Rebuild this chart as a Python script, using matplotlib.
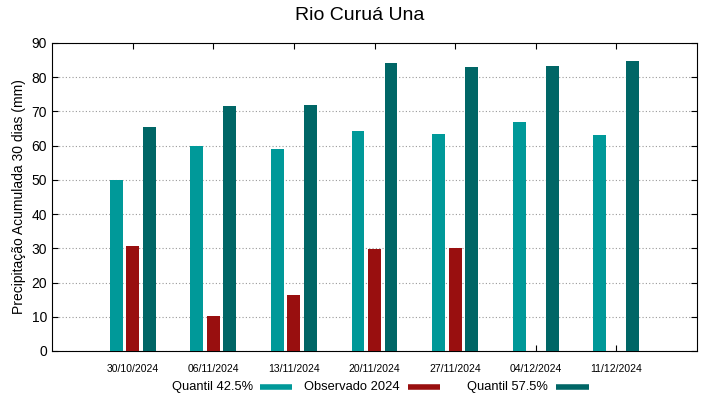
import numpy as np
import matplotlib.pyplot as plt
import matplotlib.transforms as mtransforms

plt.rcParams['font.family'] = ['Liberation Sans', 'DejaVu Sans']

datas = ['30/10/2024', '06/11/2024', '13/11/2024', '20/11/2024',
         '27/11/2024', '04/12/2024', '11/12/2024']
q425 = [50.0, 60.0, 59.0, 64.3, 63.3, 67.0, 63.2]
obs2024 = [30.7, 10.3, 16.5, 29.8, 30.0, np.nan, np.nan]
q575 = [65.5, 71.6, 71.8, 84.2, 83.1, 83.3, 84.6]

nomes = ['Quantil 42.5%', 'Observado 2024', 'Quantil 57.5%']
c_q425 = '#009999'
c_obs = '#990f0f'
c_q575 = '#006666'
cores = [c_q425, c_obs, c_q575]

W, H = 719, 399
fig = plt.figure(figsize=(W / 100, H / 100), dpi=100)
ax = fig.add_axes([52 / W, 1 - 351 / H, 645 / W, 308 / H])

x = np.arange(len(datas))
w = 0.16
d = 0.205
ax.bar(x - d, q425, width=w, color=c_q425, zorder=3)
ax.bar(x, obs2024, width=w, color=c_obs, zorder=3)
ax.bar(x + d, q575, width=w, color=c_q575, zorder=3)

ax.set_xlim(-1, 7)
ax.set_ylim(0, 90)
ax.set_yticks(np.arange(0, 91, 10))
ax.set_xticks(x)
ax.set_xticklabels(datas, fontsize=7.5)
# gnuplot draws the date labels slightly right of the tick
off = mtransforms.ScaledTranslation(6 / 100, 0, fig.dpi_scale_trans)
for lbl in ax.get_xticklabels():
    lbl.set_transform(lbl.get_transform() + off)
ax.tick_params(axis='y', labelsize=10, direction='in', right=True, length=4)
ax.tick_params(axis='x', direction='in', top=True, length=4, pad=9)
ax.yaxis.grid(True, linestyle=(0, (1, 2)), color='#999999', linewidth=0.8, zorder=0)
for s in ax.spines.values():
    s.set_linewidth(0.8)

ax.set_ylabel('Precipitação Acumulada 30 dias (mm)', fontsize=10)
fig.text(0.5, 1 - 15 / H, 'Rio Curuá Una', fontsize=14, ha='center', va='center')

# key below the plot, text then sample (gnuplot style)
txt_fim = [253, 400, 548]
amostra = [(260, 292), (408, 440), (556, 589)]
yk = 1 - 387 / H
for nome, cor, xt, (a, b) in zip(nomes, cores, txt_fim, amostra):
    fig.text(xt / W, yk, nome, fontsize=9.3, ha='right', va='center')
    fig.add_artist(plt.Line2D([a / W, b / W], [yk, yk], color=cor, linewidth=4,
                              solid_capstyle='butt'))

fig.savefig('out.png', dpi=100)
